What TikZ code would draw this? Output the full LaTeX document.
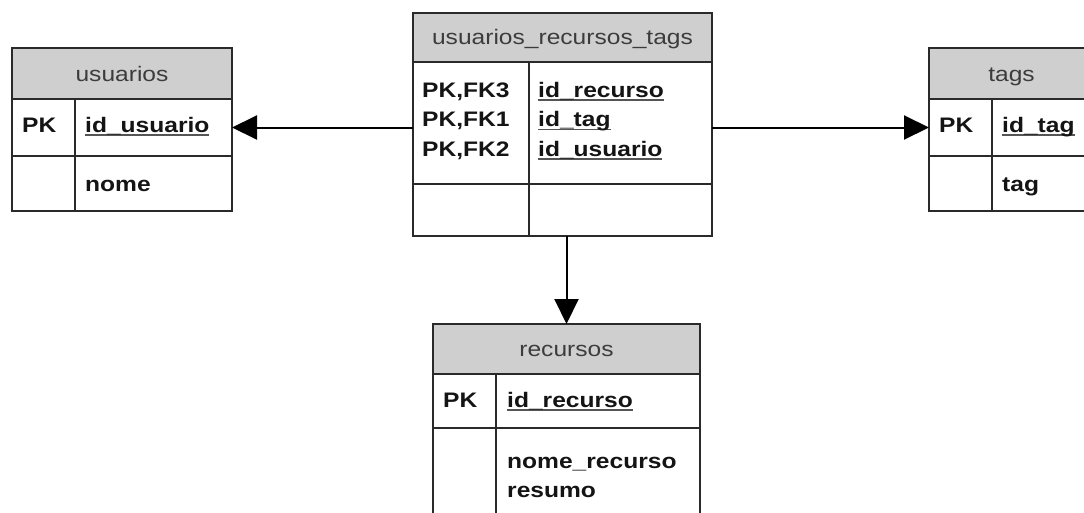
\documentclass[tikz,border=0pt]{standalone}
\usepackage{fontspec}
\setmainfont{Liberation Sans}
\usetikzlibrary{arrows.meta}
\definecolor{hdrfill}{HTML}{CFCFCF}
\definecolor{hdrtext}{HTML}{3C3C3C}
\definecolor{edge}{HTML}{2A2A2A}
\definecolor{keyrule}{HTML}{555555}
% text is set slightly wide, as in the original tool's output
\newcommand\wide[1]{\scalebox{1.17}[1]{#1}}
% underlined key field
\newcommand\keyfield[1]{{\setbox0\hbox{#1}\rlap{\color{keyrule}\rule[-3.6pt]{\wd0}{1.6pt}}\box0}}

\begin{document}
\begin{tikzpicture}[x=1pt,y=-1pt,
  cell/.style={draw=edge, line width=1.4pt, rectangle, inner sep=0pt, outer sep=0pt, anchor=north west},
  hdr/.style={cell, fill=hdrfill},
  htxt/.style={anchor=base, inner sep=0pt, text=hdrtext, font=\fontsize{21}{25}\selectfont},
  ftxt/.style={anchor=base west, inner sep=0pt, text=black!92, font=\fontsize{21}{25}\selectfont\bfseries},
  link/.style={draw=black, line width=2pt, -{Triangle[length=25pt,width=24pt]}}]

\useasboundingbox (0,0) rectangle (1084,512);
\fill[white] (0,0) rectangle (1084,512);
\clip (0,0) rectangle (1084,512);

% ---- usuarios ----
\node[hdr,  minimum width=220pt, minimum height=51pt] (usr-h)  at (12,48)  {};
\node[cell, minimum width=63pt,  minimum height=57pt] (usr-k1) at (12,99)  {};
\node[cell, minimum width=157pt, minimum height=57pt] (usr-k2) at (75,99)  {};
\node[cell, minimum width=63pt,  minimum height=55pt] (usr-a1) at (12,156) {};
\node[cell, minimum width=157pt, minimum height=55pt] (usr-a2) at (75,156) {};
\node[htxt] (usr-t)  at (122,81)  {\wide{usuarios}};
\node[ftxt] (usr-pk) at (22,132)  {\wide{PK}};
\node[ftxt] (usr-id) at (85,132)  {\wide{\keyfield{id\_usuario}}};
\node[ftxt] (usr-nm) at (85,191)  {\wide{nome}};

% ---- usuarios_recursos_tags ----
\node[hdr,  minimum width=299pt, minimum height=49pt]  (ctr-h)  at (413,13)  {};
\node[cell, minimum width=116pt, minimum height=122pt] (ctr-k1) at (413,62)  {};
\node[cell, minimum width=183pt, minimum height=122pt] (ctr-k2) at (529,62)  {};
\node[cell, minimum width=116pt, minimum height=52pt]  (ctr-a1) at (413,184) {};
\node[cell, minimum width=183pt, minimum height=52pt]  (ctr-a2) at (529,184) {};
\node[htxt] (ctr-t)   at (562.5,44) {\wide{usuarios\_recursos\_tags}};
\node[ftxt] (ctr-pk1) at (422,97)    {\wide{PK,FK3}};
\node[ftxt] (ctr-pk2) at (422,126.5) {\wide{PK,FK1}};
\node[ftxt] (ctr-pk3) at (422,156)   {\wide{PK,FK2}};
\node[ftxt] (ctr-id1) at (538,97)    {\wide{\keyfield{id\_recurso}}};
\node[ftxt] (ctr-id2) at (538,126.5) {\wide{\keyfield{id\_tag}}};
\node[ftxt] (ctr-id3) at (538,156)   {\wide{\keyfield{id\_usuario}}};

% ---- tags ----
\node[hdr,  minimum width=165pt, minimum height=51pt] (tag-h)  at (929,48)  {};
\node[cell, minimum width=63pt,  minimum height=57pt] (tag-k1) at (929,99)  {};
\node[cell, minimum width=102pt, minimum height=57pt] (tag-k2) at (992,99)  {};
\node[cell, minimum width=63pt,  minimum height=55pt] (tag-a1) at (929,156) {};
\node[cell, minimum width=102pt, minimum height=55pt] (tag-a2) at (992,156) {};
\node[htxt] (tag-t)  at (1011.5,81) {\wide{tags}};
\node[ftxt] (tag-pk) at (939,132)   {\wide{PK}};
\node[ftxt] (tag-id) at (1002,132)  {\wide{\keyfield{id\_tag}}};
\node[ftxt] (tag-nm) at (1002,191)  {\wide{tag}};

% ---- recursos ----
\node[hdr,  minimum width=267pt, minimum height=50pt]  (rec-h)  at (433,324) {};
\node[cell, minimum width=63pt,  minimum height=54pt]  (rec-k1) at (433,374) {};
\node[cell, minimum width=204pt, minimum height=54pt]  (rec-k2) at (496,374) {};
\node[cell, minimum width=63pt,  minimum height=100pt] (rec-a1) at (433,428) {};
\node[cell, minimum width=204pt, minimum height=100pt] (rec-a2) at (496,428) {};
\node[htxt] (rec-t)  at (566.5,356.5) {\wide{recursos}};
\node[ftxt] (rec-pk) at (443,407) {\wide{PK}};
\node[ftxt] (rec-id) at (507,407) {\wide{\keyfield{id\_recurso}}};
\node[ftxt] (rec-n1) at (507,468) {\wide{nome\_recurso}};
\node[ftxt] (rec-n2) at (507,497) {\wide{resumo}};

% ---- relationships ----
\draw[link] (ctr-k1.west |- usr-k2.east) -- (usr-k2.east);
\draw[link] (ctr-k2.east |- tag-k1.west) -- (tag-k1.west);
\draw[link] (ctr-a1.south -| rec-h.north) -- (rec-h.north);
\end{tikzpicture}
\end{document}
